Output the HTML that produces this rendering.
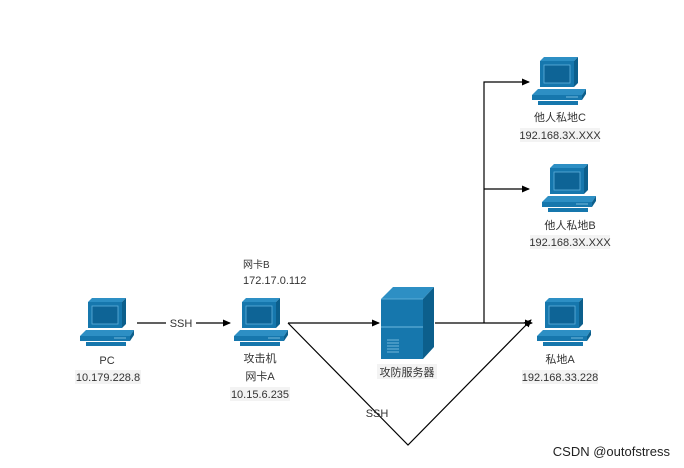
<!DOCTYPE html>
<html><head><meta charset="utf-8"><style>
html,body{margin:0;padding:0;background:#fff;width:684px;height:468px;overflow:hidden}
svg text{font-family:"Liberation Sans","Noto Sans CJK SC",sans-serif;font-size:11px;fill:#333}
</style></head><body>
<svg width="684" height="468" viewBox="0 0 684 468" xmlns="http://www.w3.org/2000/svg">
<defs>
<marker id="ar" markerWidth="8" markerHeight="8" refX="7" refY="4" orient="auto" markerUnits="userSpaceOnUse"><path d="M0,0.5 L8,4 L0,7.5z" fill="#000"/></marker>
<g id="pc">
<polygon points="10,4 14,0 48,0 44,4" fill="#2d8fc4"/>
<polygon points="44,4 48,0 48,26 44,30" fill="#0c5f8c"/>
<rect x="10" y="4" width="34" height="26" fill="#1677ad"/>
<rect x="14" y="8" width="26" height="18" fill="#0e6496" stroke="#5fb0dc" stroke-width="0.8"/>
<polygon points="2,38 8,32 56,32 52,38" fill="#2d8fc4"/>
<rect x="2" y="38" width="50" height="5" fill="#1677ad"/>
<polygon points="52,38 56,32 56,37 52,43" fill="#0c5f8c"/>
<line x1="36" y1="40" x2="48" y2="40" stroke="#8cc8e8" stroke-width="0.8"/>
<rect x="8" y="44" width="40" height="4" fill="#1677ad"/>
</g>
</defs>
<use href="#pc" x="78" y="298"/>
<use href="#pc" x="232" y="298"/>
<use href="#pc" x="530" y="57"/>
<use href="#pc" x="540" y="164"/>
<use href="#pc" x="535" y="298"/>
<!-- server -->
<polygon points="381,299 393,287 434,287 423,299" fill="#2d8fc4"/>
<polygon points="423,299 434,287 434,347 423,359" fill="#0c5f8c"/>
<rect x="381" y="299" width="42" height="60" fill="#1677ad"/>
<line x1="381" y1="327" x2="423" y2="327" stroke="#6db8e0" stroke-width="1"/>
<line x1="381" y1="299" x2="423" y2="299" stroke="#6db8e0" stroke-width="0.8"/>
<g stroke="#8cc8e8" stroke-width="0.8"><line x1="387" y1="340" x2="399" y2="340"/><line x1="387" y1="343" x2="399" y2="343"/><line x1="387" y1="346" x2="399" y2="346"/><line x1="387" y1="349" x2="399" y2="349"/><line x1="387" y1="352" x2="399" y2="352"/></g>
<!-- connectors -->
<g stroke="#000" stroke-width="1.2" fill="none">
<line x1="137" y1="323" x2="166" y2="323"/>
<line x1="196" y1="323" x2="230" y2="323" marker-end="url(#ar)"/>
<line x1="288" y1="323" x2="379" y2="323" marker-end="url(#ar)"/>
<polyline points="288,323 408,445 531,320" marker-end="url(#ar)"/>
<line x1="435" y1="323" x2="532" y2="323" marker-end="url(#ar)"/>
<polyline points="484,323 484,82 529,82" marker-end="url(#ar)"/>
<line x1="484" y1="189" x2="529" y2="189" marker-end="url(#ar)"/>
</g>
<text x="181" y="327" text-anchor="middle">SSH</text>
<text x="377" y="417" text-anchor="middle">SSH</text>
<rect x="75" y="370" width="66" height="14" fill="#f3f3f3"/>
<text x="107" y="364" text-anchor="middle">PC</text>
<text x="108" y="381" text-anchor="middle">10.179.228.8</text>
<text x="260" y="362" text-anchor="middle">攻击机</text>
<text x="260" y="380" text-anchor="middle">网卡A</text>
<rect x="230" y="387" width="60" height="14" fill="#f3f3f3"/>
<text x="260" y="398" text-anchor="middle">10.15.6.235</text>
<text x="243" y="268" font-size="10" style="font-size:10px">网卡B</text>
<text x="243" y="284">172.17.0.112</text>
<rect x="377" y="364" width="60" height="15" fill="#f3f3f3"/>
<text x="407" y="376" text-anchor="middle">攻防服务器</text>
<text x="560" y="121" text-anchor="middle">他人私地C</text>
<rect x="520" y="128" width="80" height="14" fill="#f3f3f3"/>
<text x="560" y="139" text-anchor="middle">192.168.3X.XXX</text>
<text x="570" y="229" text-anchor="middle">他人私地B</text>
<rect x="530" y="235" width="80" height="14" fill="#f3f3f3"/>
<text x="570" y="246" text-anchor="middle">192.168.3X.XXX</text>
<text x="560" y="363" text-anchor="middle">私地A</text>
<rect x="522" y="370" width="76" height="14" fill="#f3f3f3"/>
<text x="560" y="381" text-anchor="middle">192.168.33.228</text>
<text x="670" y="456" text-anchor="end" style="font-size:13px;fill:#222">CSDN @outofstress</text>
</svg>
</body></html>
